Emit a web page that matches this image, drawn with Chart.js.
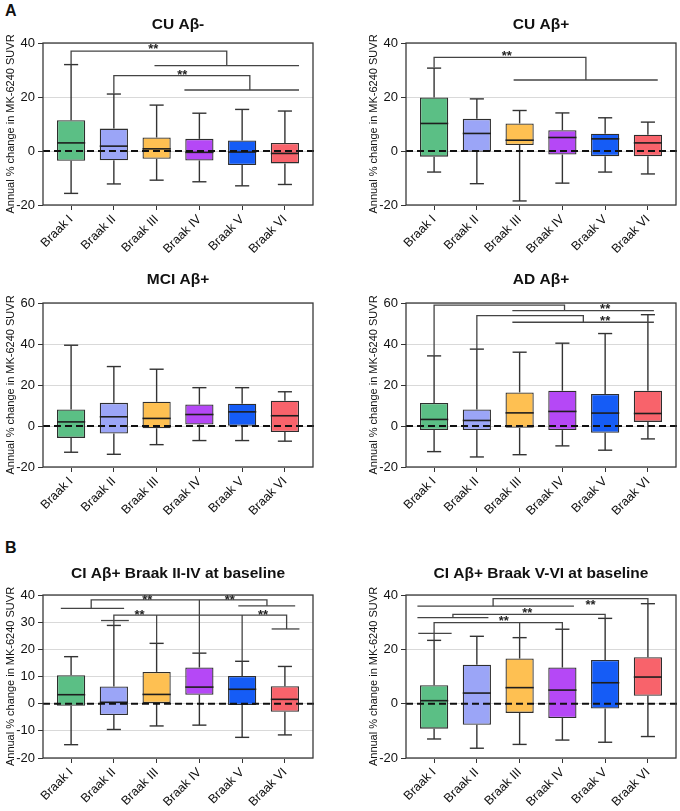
<!DOCTYPE html>
<html>
<head>
<meta charset="utf-8">
<script src="https://cdn.jsdelivr.net/npm/chart.js@4.4.1/dist/chart.umd.min.js"></script>
<style>
  body { margin: 0; background: #fff; width: 680px; height: 811px; overflow: hidden; position: relative; font-family: "Liberation Sans", Arial, sans-serif; }
  canvas { position: absolute; }
  .tag { position: absolute; font-weight: bold; font-size: 16px; color: #111; }
</style>
</head>
<body>
<div class="tag" style="left:5px;top:2px">A</div>
<div class="tag" style="left:5px;top:539px">B</div>
<script>
// categorias e valores: [min, q1, mediana, q3, max]
const braak = ['Braak I', 'Braak II', 'Braak III', 'Braak IV', 'Braak V', 'Braak VI'];

const cuNeg = [[-15.7, -3.6, 3.0, 11.4, 32.0], [-12.2, -3.4, 1.8, 8.3, 21.1], [-10.8, -2.9, 0.8, 5.0, 17.0],
               [-11.4, -3.5, -0.5, 4.5, 14.0], [-12.9, -5.2, -0.4, 3.9, 15.4], [-12.4, -4.6, -0.9, 3.0, 14.8]];
const cuPos = [[-7.8, -2.1, 10.2, 19.8, 30.7], [-12.1, -0.3, 6.5, 11.9, 19.3], [-18.5, 2.2, 4.0, 10.2, 15.0],
               [-11.9, -1.3, 5.0, 7.7, 14.1], [-7.8, -1.9, 4.5, 6.4, 12.3], [-8.5, -1.9, 3.0, 6.0, 10.7]];
const mciPos = [[-12.8, -5.8, 2.0, 8.1, 39.4], [-13.8, -3.7, 4.5, 11.3, 29.0], [-9.1, -1.1, 3.7, 11.8, 27.7],
                [-7.1, 0.7, 5.6, 10.5, 18.7], [-7.1, 0.1, 6.9, 10.9, 18.7], [-7.4, -2.9, 5.0, 12.3, 16.7]];
const adPos = [[-12.5, -2.0, 3.2, 11.2, 34.2], [-15.1, -2.0, 2.7, 8.1, 37.5], [-14.0, -0.9, 6.4, 16.4, 36.0],
               [-9.7, -2.0, 7.1, 17.2, 40.4], [-11.8, -3.3, 6.3, 15.6, 45.1], [-6.3, 2.0, 6.1, 17.2, 54.3]];
const ciEarly = [[-15.1, -0.8, 3.3, 10.5, 17.3], [-9.5, -4.2, 0.5, 6.3, 28.8], [-8.2, 0.2, 3.4, 11.7, 22.2],
                 [-7.9, 3.3, 6.1, 13.3, 18.6], [-12.4, -0.5, 5.3, 10.2, 15.6], [-11.5, -3.0, 1.6, 6.4, 13.7]];
const ciLate = [[-13.0, -9.2, 1.1, 6.8, 23.3], [-16.4, -7.8, 3.9, 14.3, 24.8], [-15.0, -3.4, 5.9, 16.6, 24.3],
                [-13.4, -5.3, 5.0, 13.3, 27.4], [-14.2, -1.8, 7.7, 16.1, 31.4], [-12.1, 2.9, 9.8, 17.1, 36.8]];

// ticks do eixo y
const ticks40 = [-20, 0, 20, 40];
const ticks60 = [-20, 0, 20, 40, 60];
const ticks10 = [-20, -10, 0, 10, 20, 30, 40];

// chaves de significancia: [indice da categoria, valor]
const cuNegKeys = [[[0, 32.1], [0, 37.0], [3.64, 37.0], [3.64, 31.6]], [[1.95, 31.6], [5.33, 31.6]],
                   [[1, 21.2], [1, 27.9], [4.18, 27.9], [4.18, 22.6]], [[2.65, 22.6], [5.33, 22.6]]];
const cuNegStars = [[1.92, 38.9], [2.6, 29.2]];
const cuPosKeys = [[[0, 30.9], [0, 34.7], [3.55, 34.7], [3.55, 26.3]], [[1.86, 26.3], [5.23, 26.3]]];
const cuPosStars = [[1.7, 36.3]];
const adPosKeys = [[[0, 34.2], [0, 59.0], [3.05, 59.0], [3.05, 56.3]], [[1.83, 56.3], [5.14, 56.3]],
                   [[1, 37.5], [1, 53.8], [3.49, 53.8], [3.49, 50.6]], [[1.83, 50.6], [5.14, 50.6]]];
const adPosStars = [[4.0, 58.3], [4.0, 52.6]];
const ciEarlyKeys = [[[-0.24, 35.1], [1.24, 35.1]], [[0.47, 35.1], [0.47, 38.2], [4.58, 38.2], [4.58, 36.0]],
                     [[3.91, 36.0], [5.24, 36.0]], [[3, 38.2], [3, 18.6]],
                     [[0.7, 30.6], [1.35, 30.6]], [[1, 28.8], [1, 32.6], [5.04, 32.6], [5.04, 27.5]],
                     [[4.69, 27.5], [5.34, 27.5]], [[2, 32.6], [2, 22.2]], [[4, 32.6], [4, 15.6]]];
const ciEarlyStars = [[1.78, 39.2], [3.71, 39.2], [1.6, 33.9], [4.49, 33.9]];
const ciLateKeys = [[[-0.39, 35.9], [3.27, 35.9]], [[1.38, 35.9], [1.38, 38.7], [5, 38.7], [5, 36.8]],
                    [[-0.39, 31.7], [1.27, 31.7]], [[0.44, 31.7], [0.44, 32.9], [4, 32.9], [4, 31.4]],
                    [[-0.37, 25.9], [0.41, 25.9]], [[0, 23.3], [0, 29.8], [3, 29.8], [3, 27.4]],
                    [[2, 29.8], [2, 24.3]]];
const ciLateStars = [[3.66, 37.5], [2.18, 34.5], [1.63, 31.4]];

const boxColours = ['#5bbf85', '#9ba5f7', '#fec052', '#b548f6', '#155cf6', '#f8636b'];

Chart.defaults.font.family = '"Liberation Sans", Arial, Helvetica, sans-serif';
Chart.defaults.color = '#111';

const PLOT_W = 270, AXIS_W = 42, AXIS_H = 56, PAD_TOP = 34, PAD_RIGHT = 4;

const panels = [
  { title: 'CU Aβ-', rows: cuNeg, keys: cuNegKeys, stars: cuNegStars, yTicks: ticks40, left: 43, top: 43, h: 162, gap: 18 },
  { title: 'CU Aβ+', rows: cuPos, keys: cuPosKeys, stars: cuPosStars, yTicks: ticks40, left: 406, top: 43, h: 162, gap: 18 },
  { title: 'MCI Aβ+', rows: mciPos, keys: [], stars: [], yTicks: ticks60, left: 43, top: 303, h: 164, gap: 23 },
  { title: 'AD Aβ+', rows: adPos, keys: adPosKeys, stars: adPosStars, yTicks: ticks60, left: 406, top: 303, h: 164, gap: 23 },
  { title: 'CI Aβ+ Braak II-IV at baseline', rows: ciEarly, keys: ciEarlyKeys, stars: ciEarlyStars, yTicks: ticks10, left: 43, top: 595, h: 163, gap: 21 },
  { title: 'CI Aβ+ Braak V-VI at baseline', rows: ciLate, keys: ciLateKeys, stars: ciLateStars, yTicks: ticks40, left: 406, top: 595, h: 163, gap: 21 }
];

function line(ctx, x1, y1, x2, y2) {
  ctx.beginPath();
  ctx.moveTo(x1, y1);
  ctx.lineTo(x2, y2);
  ctx.stroke();
}

// bigodes, medianas, linha do zero, chaves e titulo
function extras(p) {
  return {
    id: 'extras',
    afterDatasetsDraw(chart) {
      const ctx = chart.ctx;
      const xs = chart.scales.x, ys = chart.scales.y;
      const area = chart.chartArea;
      const bars = chart.getDatasetMeta(0).data;
      ctx.save();
      ctx.strokeStyle = '#333';
      ctx.lineWidth = 1.4;
      p.rows.forEach((r, i) => {
        const bar = bars[i];
        const cx = bar.x, cap = bar.width / 4;
        const yMin = ys.getPixelForValue(r[0]), yQ1 = ys.getPixelForValue(r[1]);
        const yQ3 = ys.getPixelForValue(r[3]), yMax = ys.getPixelForValue(r[4]);
        line(ctx, cx, yQ3, cx, yMax);
        line(ctx, cx - cap, yMax, cx + cap, yMax);
        line(ctx, cx, yQ1, cx, yMin);
        line(ctx, cx - cap, yMin, cx + cap, yMin);
      });
      ctx.lineWidth = 1.6;
      ctx.strokeStyle = '#1e1e1e';
      p.rows.forEach((r, i) => {
        const bar = bars[i];
        const yMed = ys.getPixelForValue(r[2]);
        line(ctx, bar.x - bar.width / 2, yMed, bar.x + bar.width / 2, yMed);
      });
      // linha tracejada no zero
      ctx.setLineDash([7, 4]);
      ctx.lineWidth = 2;
      ctx.strokeStyle = '#111';
      const y0 = ys.getPixelForValue(0);
      line(ctx, area.left, y0, area.right + 3, y0);
      ctx.setLineDash([]);
      // chaves
      ctx.strokeStyle = '#444';
      ctx.lineWidth = 1.3;
      p.keys.forEach(path => {
        ctx.beginPath();
        path.forEach((pt, k) => {
          const px = xs.getPixelForValue(pt[0]), py = ys.getPixelForValue(pt[1]);
          if (k === 0) ctx.moveTo(px, py); else ctx.lineTo(px, py);
        });
        ctx.stroke();
      });
      ctx.fillStyle = '#222';
      ctx.font = 'bold 13px "Liberation Sans", Arial, sans-serif';
      ctx.textAlign = 'center';
      ctx.textBaseline = 'alphabetic';
      p.stars.forEach(s => {
        ctx.fillText('**', xs.getPixelForValue(s[0]), ys.getPixelForValue(s[1]) + 7);
      });
      // moldura
      ctx.strokeStyle = '#3a3a3a';
      ctx.lineWidth = 1.3;
      ctx.strokeRect(area.left, area.top, area.right - area.left, area.bottom - area.top);
      // titulo
      ctx.fillStyle = '#111';
      ctx.font = 'bold 15.5px "Liberation Sans", Arial, sans-serif';
      ctx.textBaseline = 'middle';
      ctx.fillText(p.title, (area.left + area.right) / 2, area.top - p.gap);
      ctx.restore();
    }
  };
}

function makePanel(p) {
  const canvas = document.createElement('canvas');
  canvas.width = AXIS_W + PLOT_W + PAD_RIGHT;
  canvas.height = PAD_TOP + p.h + AXIS_H;
  canvas.style.left = (p.left - AXIS_W) + 'px';
  canvas.style.top = (p.top - PAD_TOP) + 'px';
  document.body.appendChild(canvas);

  new Chart(canvas, {
    type: 'bar',
    data: {
      datasets: [{
        data: p.rows.map((r, i) => ({ x: i, y: [r[1], r[3]] })),
        backgroundColor: boxColours,
        borderColor: '#2e2e2e',
        borderWidth: 1.3,
        borderSkipped: false,
        barPercentage: 0.66,
        categoryPercentage: 1
      }]
    },
    options: {
      responsive: false,
      animation: false,
      events: [],
      layout: { padding: { top: PAD_TOP, right: PAD_RIGHT, left: 0, bottom: 0 } },
      plugins: { legend: { display: false }, tooltip: { enabled: false }, title: { display: false } },
      scales: {
        x: {
          type: 'linear',
          min: -0.657,
          max: 5.657,
          offset: false,
          afterBuildTicks: s => { s.ticks = braak.map((b, i) => ({ value: i })); },
          afterFit: s => { s.height = AXIS_H; },
          border: { display: false },
          grid: { drawOnChartArea: false, drawTicks: true, tickLength: 5, tickColor: '#333', offset: false },
          ticks: {
            autoSkip: false,
            maxRotation: 45,
            minRotation: 45,
            padding: 2,
            font: { size: 12.5 },
            color: '#111',
            callback: v => braak[v]
          }
        },
        y: {
          min: p.yTicks[0],
          max: p.yTicks[p.yTicks.length - 1],
          afterBuildTicks: s => { s.ticks = p.yTicks.map(v => ({ value: v })); },
          afterFit: s => { s.width = AXIS_W; },
          border: { display: false },
          grid: { color: '#d9d9d9', lineWidth: 1, tickColor: '#333', tickLength: 5 },
          ticks: { font: { size: 13 }, padding: 3, color: '#111' },
          title: {
            display: true,
            text: 'Annual % change in MK-6240 SUVR',
            font: { size: 11 },
            color: '#111',
            padding: { top: 3, bottom: 0 }
          }
        }
      }
    },
    plugins: [extras(p)]
  });
}

panels.forEach(makePanel);
</script>
</body>
</html>
